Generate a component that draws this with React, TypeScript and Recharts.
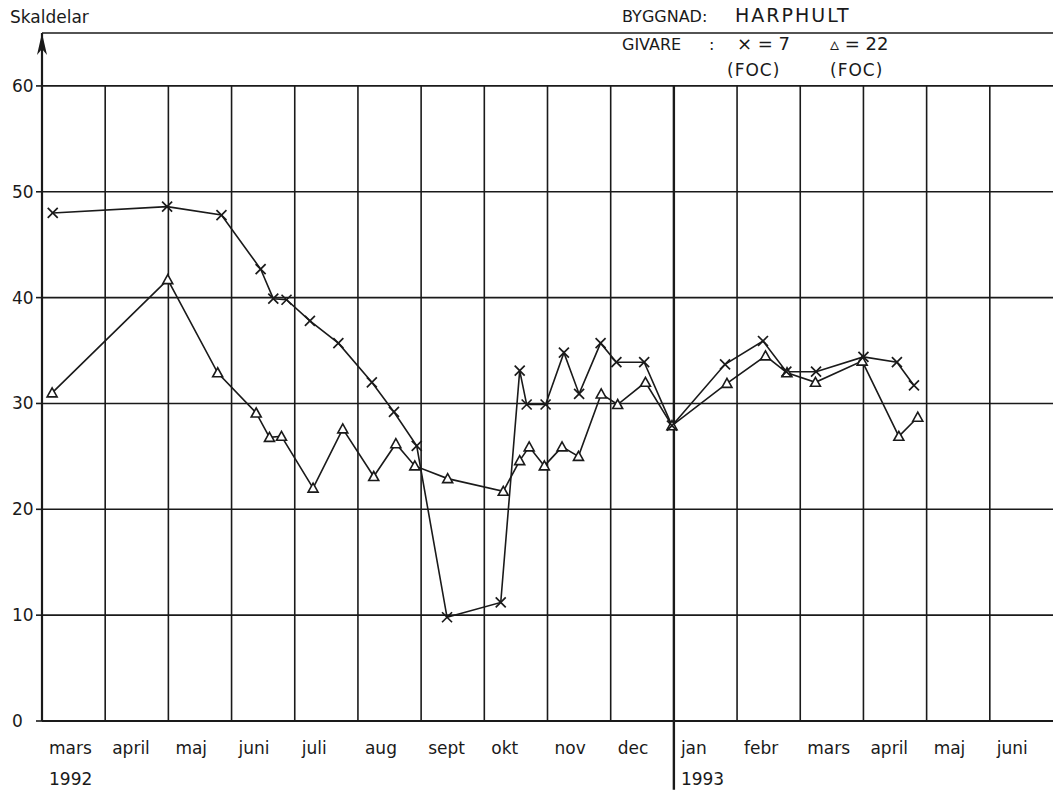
import React from 'react';
import { LineChart, Line, XAxis, YAxis, CartesianGrid, ReferenceLine, ReferenceDot } from 'recharts';

// x = months since start of mars 1992, v = skaldelar
const months = ['mars', 'april', 'maj', 'juni', 'juli', 'aug', 'sept', 'okt', 'nov', 'dec', 'jan', 'febr', 'mars', 'april', 'maj', 'juni'];
const yearStarts = [0, 10];
const yearNames = ['1992', '1993'];
const yTicks = [0, 10, 20, 30, 40, 50, 60];
const monthLines = [1, 2, 3, 4, 5, 6, 7, 8, 9, 11, 12, 13, 14, 15];
const newYearLine = 10;

// givare 7 (x)
const givare7 = [
    { m: 0.17, v: 48.0 }, { m: 1.98, v: 48.6 }, { m: 2.84, v: 47.8 }, { m: 3.46, v: 42.7 },
    { m: 3.66, v: 39.9 }, { m: 3.87, v: 39.8 }, { m: 4.24, v: 37.8 }, { m: 4.69, v: 35.7 },
    { m: 5.22, v: 32.0 }, { m: 5.57, v: 29.2 }, { m: 5.93, v: 26.0 }, { m: 6.41, v: 9.8 },
    { m: 7.26, v: 11.2 }, { m: 7.56, v: 33.1 }, { m: 7.67, v: 29.9 }, { m: 7.97, v: 29.9 },
    { m: 8.26, v: 34.8 }, { m: 8.5, v: 30.9 }, { m: 8.84, v: 35.7 }, { m: 9.09, v: 33.9 },
    { m: 9.53, v: 33.9 }, { m: 9.97, v: 27.9 }, { m: 10.81, v: 33.7 }, { m: 11.41, v: 35.9 },
    { m: 11.78, v: 33.0 }, { m: 12.25, v: 33.0 }, { m: 13.0, v: 34.4 }, { m: 13.53, v: 33.9 },
    { m: 13.8, v: 31.7 },
];

// givare 22 (triangel)
const givare22 = [
    { m: 0.16, v: 31.0 }, { m: 1.99, v: 41.7 }, { m: 2.78, v: 32.9 }, { m: 3.39, v: 29.1 },
    { m: 3.6, v: 26.8 }, { m: 3.79, v: 26.9 }, { m: 4.29, v: 22.0 }, { m: 4.76, v: 27.6 },
    { m: 5.25, v: 23.1 }, { m: 5.6, v: 26.2 }, { m: 5.9, v: 24.1 }, { m: 6.42, v: 22.9 },
    { m: 7.3, v: 21.7 }, { m: 7.56, v: 24.6 }, { m: 7.71, v: 25.9 }, { m: 7.95, v: 24.1 },
    { m: 8.23, v: 25.9 }, { m: 8.49, v: 25.0 }, { m: 8.85, v: 30.9 }, { m: 9.11, v: 29.9 },
    { m: 9.55, v: 32.0 }, { m: 9.97, v: 27.9 }, { m: 10.84, v: 31.9 }, { m: 11.45, v: 34.5 },
    { m: 11.79, v: 32.9 }, { m: 12.24, v: 32.0 }, { m: 12.98, v: 34.0 }, { m: 13.56, v: 26.9 },
    { m: 13.86, v: 28.7 },
];

const font = '"DejaVu Sans", sans-serif';
const ink = '#1a1a1a';

const CrossDot = (p: any) => {
    const { cx, cy } = p;
    if (cx == null || cy == null) return <g key={p.index} />;
    const s = 5;
    return (
        <g key={p.index} stroke={ink} strokeWidth={1.7}>
            <line x1={cx - s} y1={cy - s} x2={cx + s} y2={cy + s} />
            <line x1={cx - s} y1={cy + s} x2={cx + s} y2={cy - s} />
        </g>
    );
};

const TriangleDot = (p: any) => {
    const { cx, cy } = p;
    if (cx == null || cy == null) return <g key={p.index} />;
    const s = 5;
    return (
        <polygon
            key={p.index}
            points={`${cx},${cy - s} ${cx - s},${cy + s * 0.8} ${cx + s},${cy + s * 0.8}`}
            fill="#fff"
            stroke={ink}
            strokeWidth={1.6}
        />
    );
};

const MonthTick = (p: any) => {
    const { x, y, payload } = p;
    const i = yearStarts.indexOf(payload.value);
    return (
        <g>
            <text x={x + 7} y={y + 19} fontFamily={font} fontSize={17} fill={ink} dominantBaseline="central">
                {months[payload.value]}
            </text>
            {i >= 0 && (
                <text x={x + 7} y={y + 50} fontFamily={font} fontSize={17} fill={ink} dominantBaseline="central">
                    {yearNames[i]}
                </text>
            )}
        </g>
    );
};

const ValueTick = (p: any) => {
    const { y, payload } = p;
    return (
        <text x={12} y={y} fontFamily={font} fontSize={17} fill={ink} dominantBaseline="central">
            {payload.value}
        </text>
    );
};

const Arrow = (p: any) => {
    const { cx, cy } = p;
    if (cx == null || cy == null) return <g />;
    return <path d={`M${cx},${cy} L${cx - 5},${cy + 22} L${cx},${cy + 16} L${cx + 5},${cy + 22} Z`} fill={ink} />;
};

const label = (x: number, y: number, text: string, size = 16, extra: React.CSSProperties = {}) => (
    <div style={{ position: 'absolute', left: x, top: y, fontFamily: font, fontSize: size, color: ink, whiteSpace: 'pre', lineHeight: 1, ...extra }}>
        {text}
    </div>
);

export default function App() {
    return (
        <div style={{ position: 'absolute', left: 0, top: 0, width: 1053, height: 793, background: '#fff' }}>
            <LineChart width={1053} height={793} margin={{ top: 33, right: 0, bottom: 0, left: 0 }}>
                <CartesianGrid vertical={false} stroke={ink} strokeWidth={1.6} strokeOpacity={1} />
                <XAxis
                    type="number"
                    dataKey="m"
                    domain={[0, 16]}
                    ticks={months.map((_, i) => i)}
                    tick={MonthTick}
                    tickLine={false}
                    axisLine={{ stroke: ink, strokeWidth: 2 }}
                    height={72}
                    allowDataOverflow
                />
                <YAxis
                    type="number"
                    domain={[0, 65]}
                    ticks={yTicks}
                    tick={ValueTick}
                    tickLine={{ stroke: ink, strokeWidth: 1.6 }}
                    tickSize={6}
                    axisLine={{ stroke: ink, strokeWidth: 2.2 }}
                    width={42}
                    allowDataOverflow
                />
                {monthLines.map((m) => (
                    <ReferenceLine
                        key={m}
                        segment={[{ x: m, y: 0 }, { x: m, y: 60 }]}
                        stroke={ink}
                        strokeWidth={1.6}
                    />
                ))}
                <ReferenceLine
                    segment={[{ x: newYearLine, y: -6.5 }, { x: newYearLine, y: 60 }]}
                    stroke={ink}
                    strokeWidth={2.4}
                    ifOverflow="visible"
                />
                <ReferenceDot x={0} y={65} r={1} ifOverflow="visible" shape={Arrow} />
                <Line
                    data={givare22}
                    dataKey="v"
                    type="linear"
                    stroke={ink}
                    strokeWidth={1.6}
                    dot={TriangleDot}
                    activeDot={false}
                    isAnimationActive={false}
                />
                <Line
                    data={givare7}
                    dataKey="v"
                    type="linear"
                    stroke={ink}
                    strokeWidth={1.6}
                    dot={CrossDot}
                    activeDot={false}
                    isAnimationActive={false}
                />
            </LineChart>
            {label(10, 9, 'Skaldelar', 17)}
            {label(622, 9, 'BYGGNAD:', 16)}
            {label(735, 6, 'HARPHULT', 19, { letterSpacing: 2 })}
            {label(622, 37, 'GIVARE', 16)}
            {label(709, 37, ':', 16)}
            {label(737, 35, '× = 7', 18)}
            {label(830, 35, '▵ = 22', 18)}
            {label(727, 62, '(FOC)', 17, { letterSpacing: 1 })}
            {label(830, 62, '(FOC)', 17, { letterSpacing: 1 })}
        </div>
    );
}
